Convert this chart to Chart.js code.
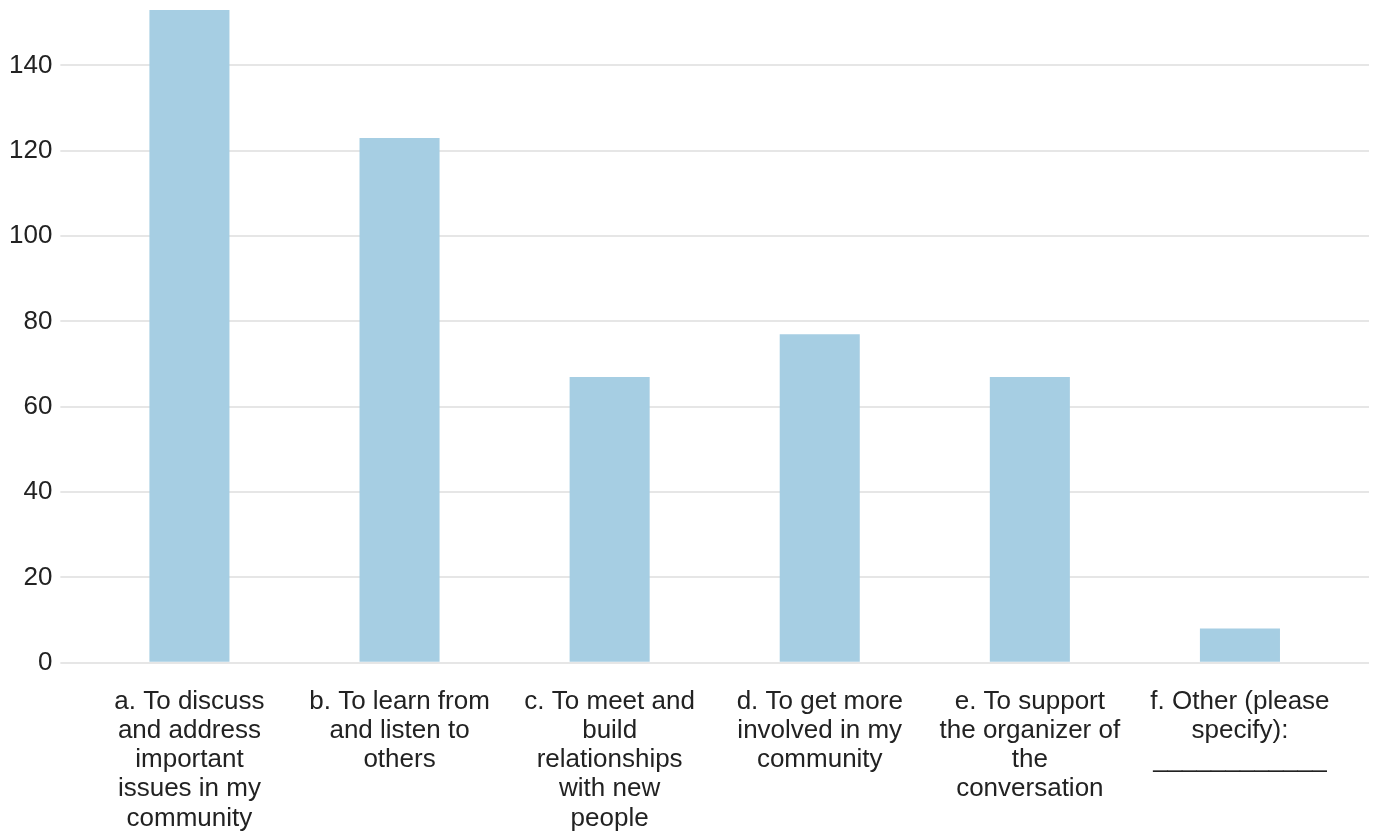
<!DOCTYPE html>
<html>
<head>
<meta charset="utf-8">
<title>Reasons for joining the conversation</title>
<script src="https://cdn.jsdelivr.net/npm/chart.js@4/dist/chart.umd.min.js"></script>
<style>
  html, body { margin: 0; padding: 0; background: #fff; }
  #wrap { width: 1375px; height: 834px; position: relative; }
</style>
</head>
<body>
<div id="wrap"><canvas id="myChart"></canvas></div>
<script>
// category labels, already split into lines like the original
var categories = [
    ["a. To discuss", "and address", "important", "issues in my", "community"],
    ["b. To learn from", "and listen to", "others"],
    ["c. To meet and", "build", "relationships", "with new", "people"],
    ["d. To get more", "involved in my", "community"],
    ["e. To support", "the organizer of", "the", "conversation"],
    ["f. Other (please", "specify):", "____________"]
];
var responses = [153, 123, 67, 77, 67, 8];
var tickStep = 20;

var barColor = "#a6cee3";
var gridColor = "#e6e6e6";
var textColor = "#222222";

Chart.defaults.font.family = "'Liberation Sans', Arial, sans-serif";
Chart.defaults.font.size = 26;
Chart.defaults.color = textColor;

function keep_round_ticks(axis){
    axis.ticks = axis.ticks.filter(function(t){ return t.value % tickStep === 0; });
}

function Drawgraphonfront(){
    var ctx = document.getElementById('myChart').getContext('2d');
    var top = Math.max.apply(null, responses);

    new Chart(ctx, {
        type: 'bar',
        data: {
            labels: categories,
            datasets: [{
                data: responses,
                backgroundColor: barColor,
                borderWidth: 0,
                barPercentage: 0.381,
                categoryPercentage: 1.0
            }]
        },
        options: {
            responsive: true,
            maintainAspectRatio: false,
            animation: false,
            layout: { padding: { top: 10, left: 1, right: 6, bottom: -15 } },
            plugins: {
                legend: { display: false },
                tooltip: { enabled: false }
            },
            scales: {
                x: {
                    grid: { display: false },
                    border: { display: false },
                    ticks: {
                        maxRotation: 0,
                        minRotation: 0,
                        autoSkip: false,
                        padding: 16,
                        font: { size: 26, lineHeight: 1.125 }
                    }
                },
                y: {
                    min: 0,
                    max: top,
                    afterBuildTicks: keep_round_ticks,
                    border: { display: false },
                    grid: { color: gridColor, lineWidth: 2, drawTicks: true, tickLength: 24, tickColor: gridColor },
                    // tiny lineHeight so the axis does not push the plot down from the top
                    ticks: { stepSize: tickStep, padding: 8, font: { size: 26, lineHeight: 0.05 } }
                },
                y2: {
                    position: 'right',
                    min: 0,
                    max: top,
                    afterBuildTicks: keep_round_ticks,
                    border: { display: false },
                    grid: { color: gridColor, lineWidth: 2, drawOnChartArea: false, drawTicks: true, tickLength: 24, tickColor: gridColor },
                    ticks: { display: false, stepSize: tickStep, padding: 0, font: { lineHeight: 0.05 } }
                }
            }
        }
    });
}

Drawgraphonfront();
</script>
</body>
</html>
